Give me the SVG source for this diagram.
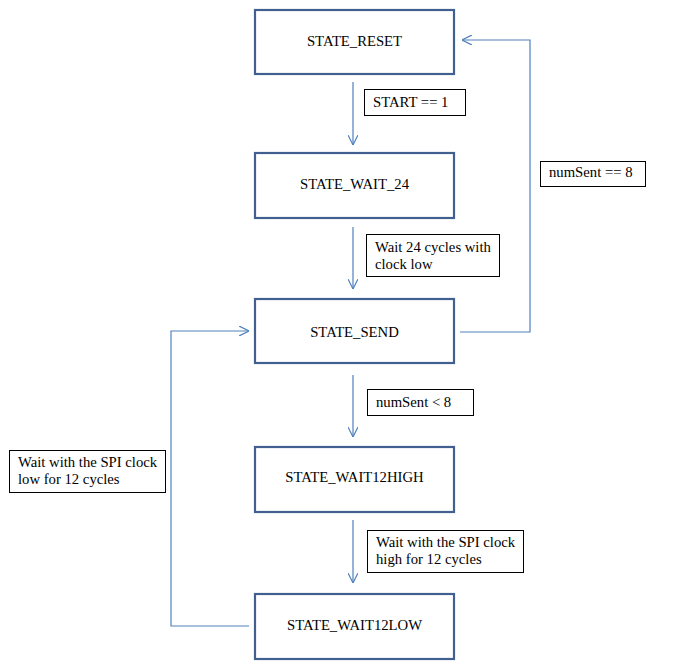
<svg xmlns="http://www.w3.org/2000/svg" width="676" height="672" viewBox="0 0 676 672">
<style>
.st{fill:#fff;stroke:#41608f;stroke-width:2.2}
.lb{fill:#fff;stroke:#000;stroke-width:1}
.t{font-family:"Liberation Serif","Times New Roman",serif;font-size:14.7px;fill:#000}
.c{text-anchor:middle}
.cn{fill:none;stroke:#4f81bd;stroke-width:1.2}
</style>
<defs>
<marker id="ah" viewBox="0 0 10 10" refX="10" refY="5" markerWidth="10" markerHeight="10" markerUnits="userSpaceOnUse" orient="auto">
<path d="M0,0 L10,5 L0,10" fill="none" stroke="#4f81bd" stroke-width="1.2"/>
</marker>
</defs>
<g id="connectors">
<line class="cn" x1="353" y1="82" x2="353" y2="145" marker-end="url(#ah)"/>
<line class="cn" x1="353" y1="227" x2="353" y2="289" marker-end="url(#ah)"/>
<line class="cn" x1="353" y1="375" x2="353" y2="437" marker-end="url(#ah)"/>
<line class="cn" x1="353" y1="520" x2="353" y2="583" marker-end="url(#ah)"/>
<polyline class="cn" points="460,332 530,332 530,40 462,40" marker-end="url(#ah)"/>
<polyline class="cn" points="249,626 171,626 171,331 249,331" marker-end="url(#ah)"/>
</g>
<g id="STATE_RESET"><rect class="st" x="255" y="10" width="199" height="64"/><text class="t c" x="354.5" y="46">STATE_RESET</text></g>
<g id="STATE_WAIT_24"><rect class="st" x="255" y="153" width="199" height="65"/><text class="t c" x="354.5" y="189">STATE_WAIT_24</text></g>
<g id="STATE_SEND"><rect class="st" x="255" y="299" width="199" height="64"/><text class="t c" x="354.5" y="337">STATE_SEND</text></g>
<g id="STATE_WAIT12HIGH"><rect class="st" x="255" y="447" width="199" height="65"/><text class="t c" x="354.5" y="482">STATE_WAIT12HIGH</text></g>
<g id="STATE_WAIT12LOW"><rect class="st" x="255" y="594" width="199" height="65"/><text class="t c" x="354.5" y="630">STATE_WAIT12LOW</text></g>
<g id="label_start"><rect class="lb" x="364.5" y="89.5" width="101" height="26"/><text class="t" x="373" y="107">START == 1</text></g>
<g id="label_num8"><rect class="lb" x="540.5" y="161.5" width="105" height="25"/><text class="t" x="549" y="177">numSent == 8</text></g>
<g id="label_wait24"><rect class="lb" x="366.5" y="234.5" width="133" height="42"/><text class="t" x="375" y="252">Wait 24 cycles with</text><text class="t" x="375" y="269">clock low</text></g>
<g id="label_numlt8"><rect class="lb" x="367.5" y="389.5" width="106" height="26"/><text class="t" x="376" y="407">numSent &lt; 8</text></g>
<g id="label_low"><rect class="lb" x="9.5" y="450.5" width="156" height="42"/><text class="t" x="18" y="467">Wait with the SPI clock</text><text class="t" x="18" y="484">low for 12 cycles</text></g>
<g id="label_high"><rect class="lb" x="367.5" y="530.5" width="156" height="42"/><text class="t" x="376" y="547">Wait with the SPI clock</text><text class="t" x="376" y="564">high for 12 cycles</text></g>
</svg>
